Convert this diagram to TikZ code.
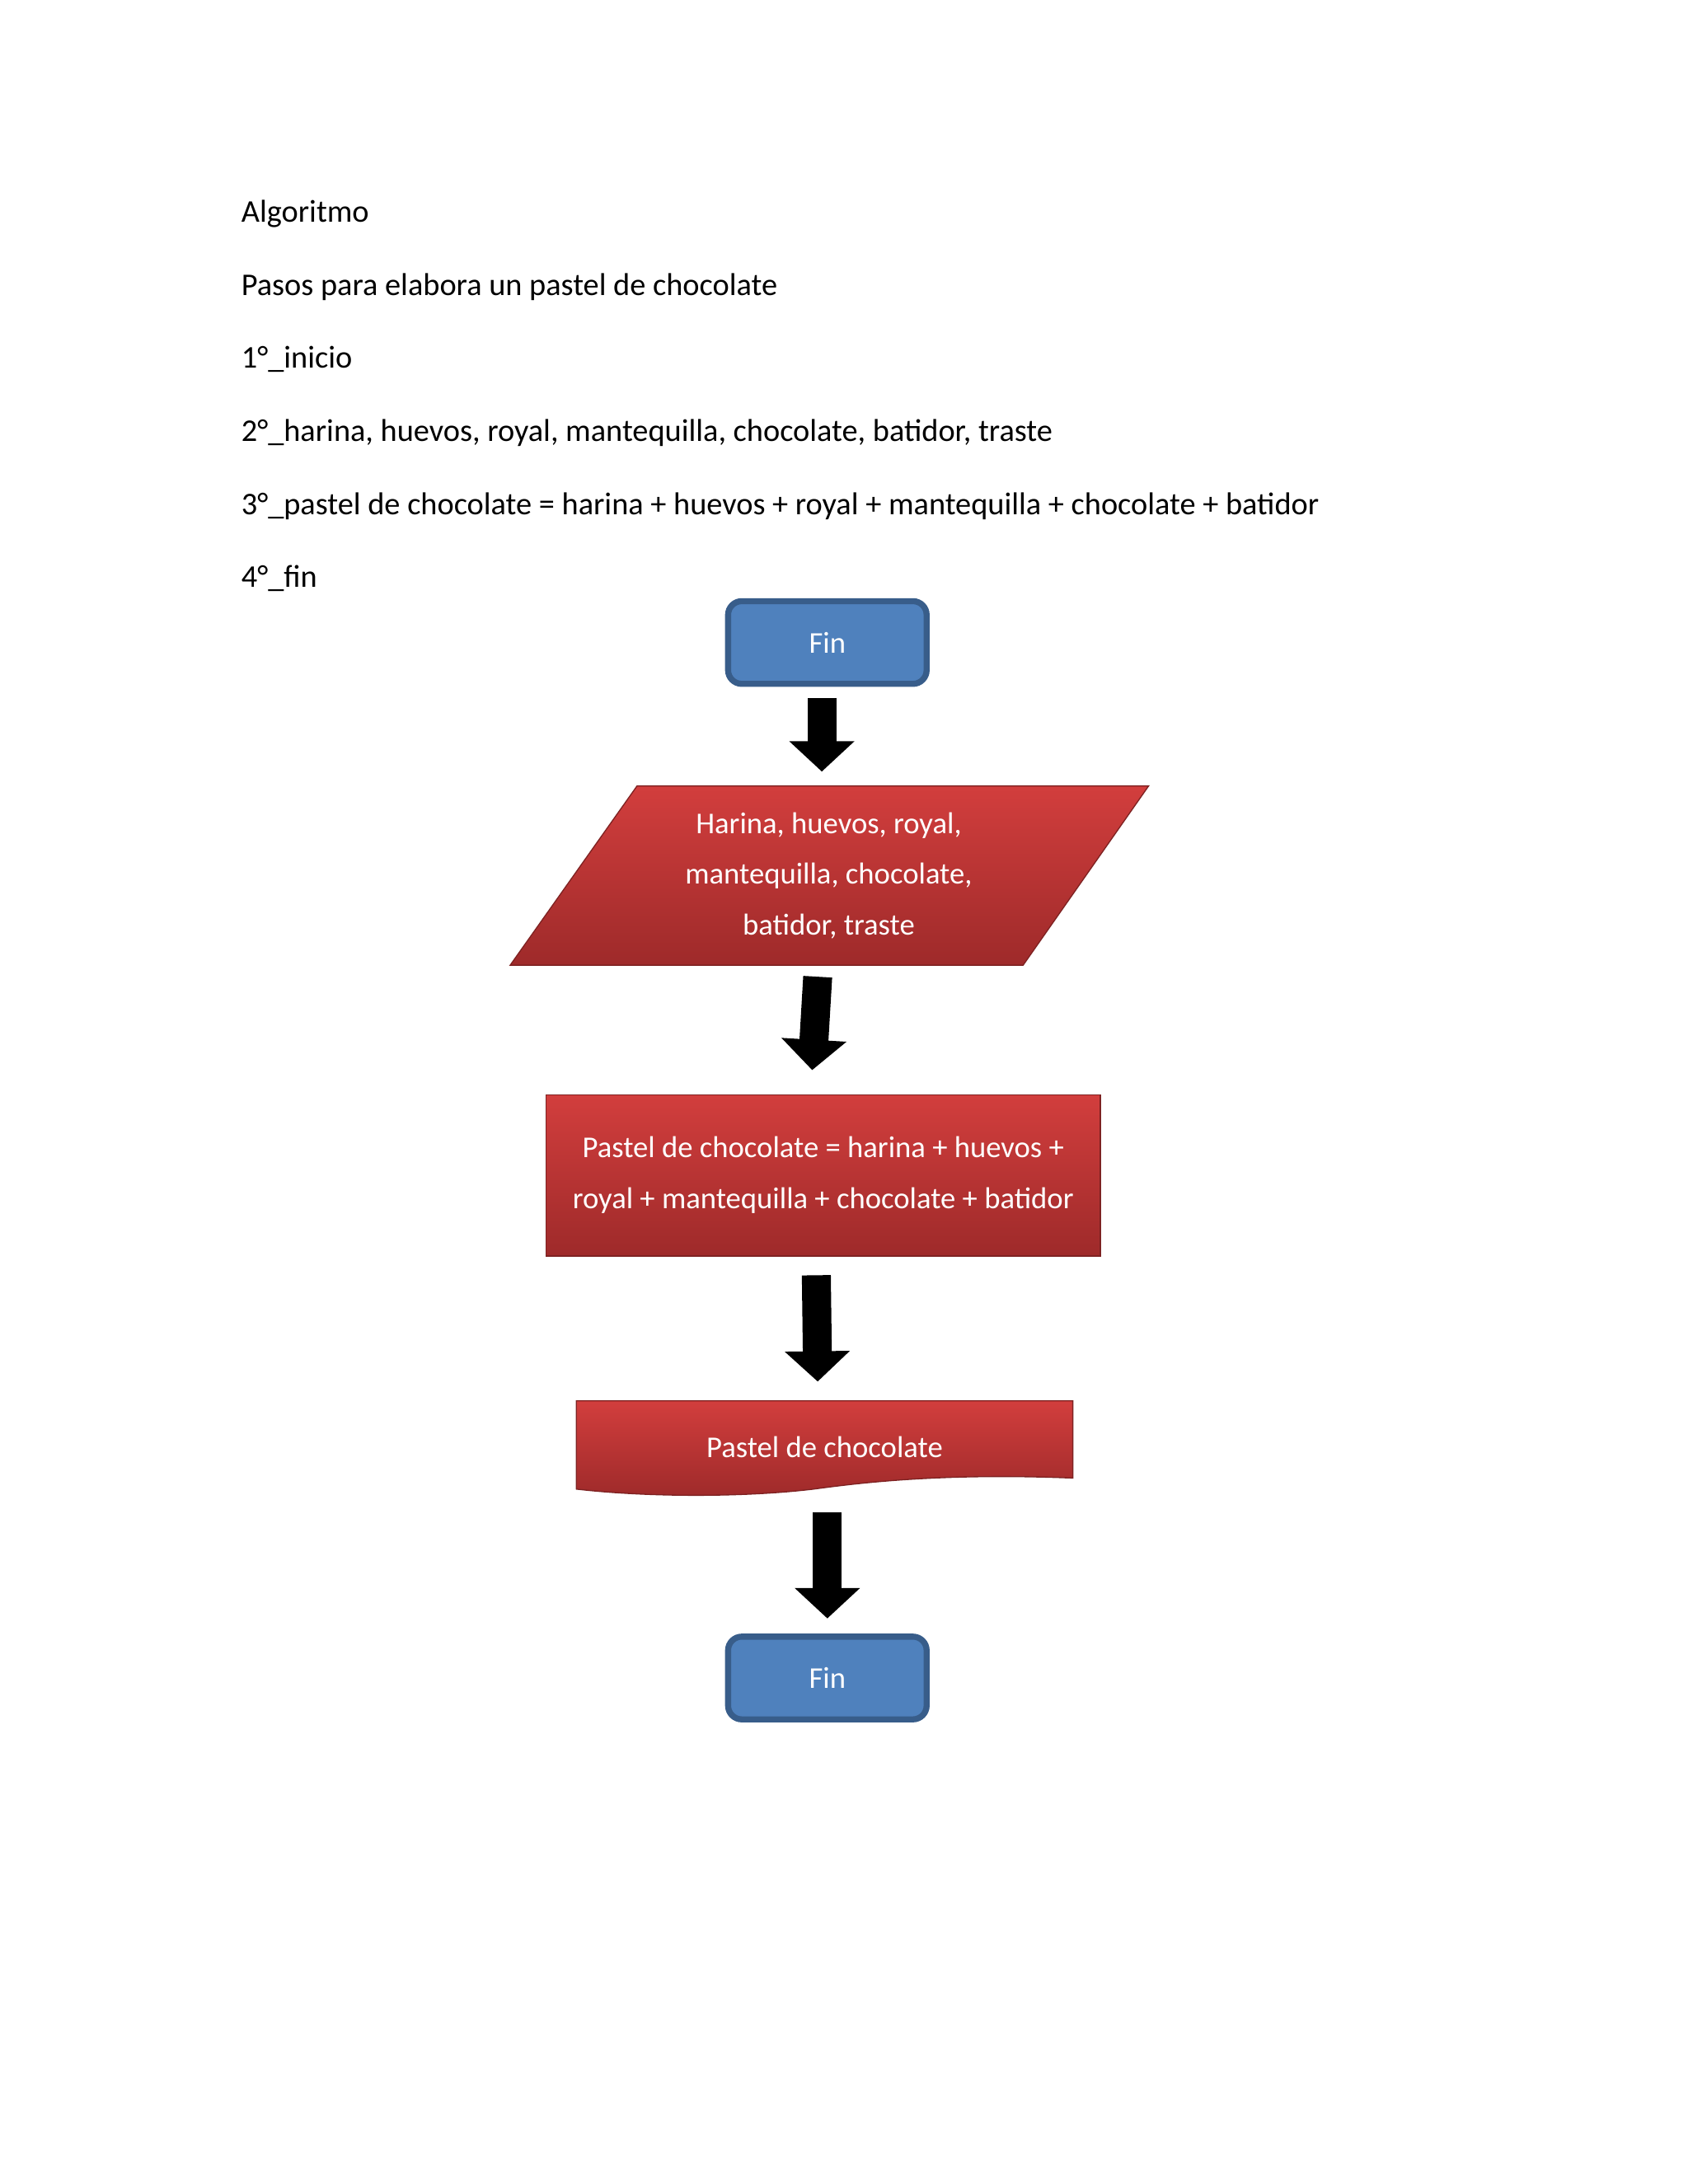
\documentclass[tikz,border=0pt]{standalone}
\usepackage{fontspec}
\setmainfont{Carlito}
\usetikzlibrary{arrows.meta}
\definecolor{finblue}{HTML}{4F81BD}
\definecolor{finedge}{HTML}{385D8A}
\definecolor{redtop}{HTML}{D23E3D}
\definecolor{redbot}{HTML}{9E2A2A}
\tikzset{
  pasos/.style = {anchor=base west, font=\fontsize{11.5}{14}\selectfont},
  fin/.style = {draw=finedge, line width=2.2pt, fill=finblue, rounded corners=5pt,
    minimum width=144*0.01764cm, minimum height=60*0.01764cm, text=white,
    font=\fontsize{11}{13}\selectfont},
  rojo/.style = {top color=redtop, bottom color=redbot, draw=redbot!80!black, line width=0.4pt},
  texto/.style = {text=white, align=center, font=\fontsize{11}{18.5}\selectfont},
  bloque/.style = {line width=21*0.01764cm, -{Triangle[length=22*0.01764cm, width=46*0.01764cm]}},
}
\begin{document}
\begin{tikzpicture}[x=0.01764cm, y=-0.01764cm]
\useasboundingbox (0,0) rectangle (1224,1584);
%% texto del algoritmo
\node [pasos] (t1) at (168,161) {Algoritmo};
\node [pasos] (t2) at (168,214) {Pasos para elabora un pastel de chocolate};
\node [pasos] (t3) at (168,267) {1°\_inicio};
\node [pasos] (t4) at (168,320) {2°\_harina, huevos, royal, mantequilla, chocolate, batidor, traste};
\node [pasos] (t5) at (168,373) {3°\_pastel de chocolate = harina + huevos + royal + mantequilla + chocolate + batidor};
\node [pasos] (t6) at (168,426) {4°\_fin};
%% diagrama
\node [fin] (inicio) at (600,466) {Fin};
% datos
\path [rojo] (462,570) -- (833,570) -- (742,700) -- (370,700) -- cycle;
\node [texto, minimum height=130*0.01764cm] (datos) at (601,635) {Harina, huevos, royal,\\mantequilla, chocolate,\\batidor, traste};
% proceso
\path [rojo] (396,794) rectangle (798,911);
\node [texto, minimum height=117*0.01764cm] (proceso) at (597,852) {Pastel de chocolate = harina + huevos +\\royal + mantequilla + chocolate + batidor};
% documento
\path [rojo] (418,1016) -- (778,1016) -- (778,1072)
  .. controls (680,1068) and (620,1076) .. (590,1080)
  .. controls (540,1086) and (470,1086) .. (418,1080) -- cycle;
\node [texto, minimum height=66*0.01764cm, anchor=north] (salida) at (598,1016) {Pastel de chocolate};
\node [fin] (final) at (600,1217) {Fin};
%% flechas
\draw [bloque] ([shift={(-4,8)}]inicio.south) -- ([shift={(-5,-10)}]datos.north);
\draw [bloque] ([shift={(-8,8)}]datos.south) -- ([shift={(-8,-17)}]proceso.north);
\draw [bloque] ([shift={(-5,14)}]proceso.south) -- ([shift={(-5,-14)}]salida.north |- 0,1016);
\draw [bloque] ([shift={(2,14)}]salida.south) -- ([shift={(0,-11)}]final.north);
\end{tikzpicture}
\end{document}
